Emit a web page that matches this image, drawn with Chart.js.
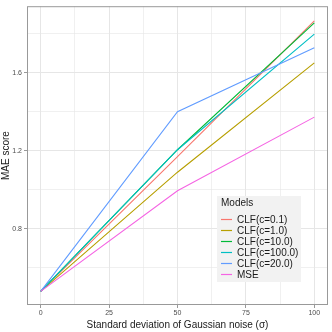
<!DOCTYPE html>
<html>
<head>
<meta charset="utf-8">
<script src="https://cdn.jsdelivr.net/npm/chart.js@4.4.0/dist/chart.umd.min.js"></script>
<style>
  html, body { margin: 0; padding: 0; background: #fff; }
  #wrap { width: 332px; height: 332px; }
</style>
</head>
<body>
<div id="wrap"><canvas id="c" width="332" height="332"></canvas></div>
<script>
  // noise levels (x) and MAE per model
  const sigma = [0, 50, 100];
  const models = ["CLF(c=0.1)", "CLF(c=1.0)", "CLF(c=10.0)", "CLF(c=100.0)", "CLF(c=20.0)", "MSE"];
  const clf01   = [0.48, 1.17, 1.865];
  const clf1    = [0.48, 1.09, 1.65];
  const clf10   = [0.48, 1.205, 1.855];
  const clf100  = [0.48, 1.205, 1.797];
  const clf20   = [0.48, 1.40, 1.727];
  const mse     = [0.48, 0.995, 1.372];
  const xTicks = [0, 25, 50, 75, 100];
  const yTicks = [0.6, 0.8, 1.0, 1.2, 1.4, 1.6, 1.8];
  const yMajor = [0.8, 1.2, 1.6];

  const colors = ["#F8766D", "#B79F00", "#00BA38", "#00BFC4", "#619CFF", "#F564E3"];
  const seriesVals = [clf01, clf1, clf10, clf100, clf20, mse];
  const FONT = "'Liberation Sans', Arial, sans-serif";

  const isMajorY = (v) => yMajor.some((m) => Math.abs(m - v) < 1e-6);
  const isMajorX = (v) => v % 25 === 0;

  const datasets = models.map((name, i) => ({
    label: name,
    data: sigma.map((s, j) => ({ x: s, y: seriesVals[i][j] })),
    borderColor: colors[i],
    backgroundColor: colors[i],
    borderWidth: 1.1,
    pointRadius: 0,
    tension: 0,
    order: models.length - i,
  }));

  const panelBorder = {
    id: "panelBorder",
    afterDatasetsDraw(chart) {
      const { ctx, chartArea: a } = chart;
      ctx.save();
      ctx.strokeStyle = "#999999";
      ctx.lineWidth = 1;
      ctx.strokeRect(a.left + 0.5, a.top + 0.5, a.right - a.left - 1, a.bottom - a.top - 1);
      ctx.restore();
    },
  };

  const boxLegend = {
    id: "boxLegend",
    afterDraw(chart) {
      const ctx = chart.ctx;
      ctx.save();
      ctx.fillStyle = "#f2f2f2";
      ctx.fillRect(217, 196, 84, 86);
      ctx.font = "10px " + FONT;
      ctx.fillStyle = "#1a1a1a";
      ctx.textBaseline = "middle";
      ctx.fillText("Models", 221, 203);
      chart.data.datasets.forEach((d, i) => {
        const y = 219.5 + i * 11;
        ctx.strokeStyle = d.borderColor;
        ctx.lineWidth = 1.2;
        ctx.beginPath();
        ctx.moveTo(221, y);
        ctx.lineTo(232, y);
        ctx.stroke();
        ctx.fillStyle = "#1a1a1a";
        ctx.fillText(d.label, 237, y + 0.5);
      });
      ctx.restore();
    },
  };

  new Chart(document.getElementById("c"), {
    type: "line",
    data: { datasets },
    plugins: [panelBorder, boxLegend],
    options: {
      responsive: false,
      animation: false,
      layout: { padding: { top: 3, right: 4, left: 0, bottom: 0 } },
      plugins: { legend: { display: false }, tooltip: { enabled: false } },
      scales: {
        x: {
          type: "linear",
          min: -5,
          max: 105,
          afterBuildTicks: (s) => { s.ticks = [12.5, 37.5, 62.5, 87.5].concat(xTicks).sort((a, b) => a - b).map((v) => ({ value: v })); },
          afterFit: (s) => { s.height = 27; },
          ticks: {
            autoSkip: false,
            maxRotation: 0,
            padding: 1,
            color: "#4d4d4d",
            font: { size: 7, family: FONT },
            callback: (v) => (isMajorX(v) ? String(v) : ""),
          },
          grid: {
            color: "#e6e6e6",
            lineWidth: (c) => (c.tick && isMajorX(c.tick.value) ? 1 : 0.6),
            tickLength: 3,
            tickColor: (c) => (c.tick && isMajorX(c.tick.value) ? "#999999" : "rgba(0,0,0,0)"),
          },
          border: { display: false },
          title: {
            display: true,
            text: "Standard deviation of Gaussian noise (σ)",
            color: "#1a1a1a",
            font: { size: 10, family: FONT },
            padding: { top: 0, bottom: 1 },
          },
        },
        y: {
          type: "linear",
          min: 0.41,
          max: 1.94,
          afterBuildTicks: (s) => { s.ticks = yTicks.map((v) => ({ value: v })); },
          afterFit: (s) => { s.width = 27; },
          ticks: {
            autoSkip: false,
            padding: 2,
            color: "#4d4d4d",
            font: { size: 7, family: FONT },
            callback: (v) => (isMajorY(v) ? v.toFixed(1) : ""),
          },
          grid: {
            color: "#e6e6e6",
            lineWidth: (c) => (c.tick && isMajorY(c.tick.value) ? 1 : 0.6),
            tickLength: 3,
            tickColor: (c) => (c.tick && isMajorY(c.tick.value) ? "#999999" : "rgba(0,0,0,0)"),
          },
          border: { display: false },
          title: {
            display: true,
            text: "MAE score",
            color: "#1a1a1a",
            font: { size: 10, family: FONT },
            padding: { top: 0, bottom: 1 },
          },
        },
      },
    },
  });
</script>
</body>
</html>
